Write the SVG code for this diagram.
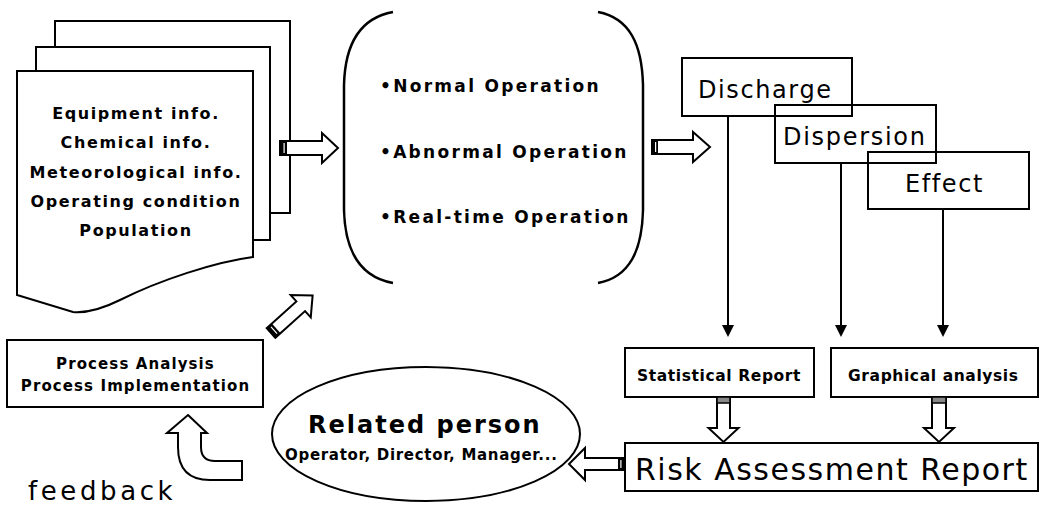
<svg xmlns="http://www.w3.org/2000/svg" width="1040" height="507" viewBox="0 0 1040 507">
<style>
.ln{fill:none;stroke:#000;stroke-width:2}
.pg{fill:#fff;stroke:#000;stroke-width:2}
.ar{fill:#fff;stroke:#000;stroke-width:2;stroke-linejoin:miter}
.tl{fill:#000}
.t{font-family:"DejaVu Sans",Verdana,sans-serif;fill:#000}
.stk{font-size:16px;font-weight:bold;letter-spacing:1.6px}
.op{font-size:17px;font-weight:bold;letter-spacing:2.3px}
.big{font-size:24px;letter-spacing:1.6px}
.sm{font-size:15.5px;font-weight:bold;letter-spacing:0.6px}
</style>

<g id="input-docs">
<rect class="pg" x="55" y="21" width="235" height="192"/>
<rect class="pg" x="36" y="47" width="234" height="193"/>
<path class="pg" d="M17,71 L253,71 L253,257 C215,262 160,280 120,300 C100,310 85,313 73,312 L17,295 Z"/>
<g class="t stk" text-anchor="middle">
<text x="136" y="119">Equipment info.</text>
<text x="136" y="148">Chemical info.</text>
<text x="136" y="178">Meteorological info.</text>
<text x="136" y="207">Operating condition</text>
<text x="136" y="236">Population</text>
</g>
</g>

<g id="operations">
<path class="ln" style="stroke-width:2.5" d="M393,12 C360,18 345,45 344,85 L344,210 C345,250 360,277 393,283"/>
<path class="ln" style="stroke-width:2.5" d="M598,12 C630,18 642,45 643,85 L643,210 C642,250 630,277 598,283"/>
<g class="t op">
<text x="380" y="92">•Normal Operation</text>
<text x="380" y="158">•Abnormal Operation</text>
<text x="380" y="223">•Real-time Operation</text>
</g>
</g>

<g id="discharge">
<rect class="ln" x="682" y="58" width="170" height="58"/>
<text class="t big" x="698" y="98">Discharge</text>
</g>
<g id="dispersion">
<rect class="ln" x="775" y="105" width="161" height="58"/>
<text class="t big" x="783" y="145" style="letter-spacing:1.7px">Dispersion</text>
</g>
<g id="effect">
<rect class="ln" x="868" y="152" width="161" height="57"/>
<text class="t big" x="905" y="192">Effect</text>
</g>

<g id="statistical-report">
<rect class="ln" x="625" y="348" width="189" height="49"/>
<text class="t sm" x="637" y="381">Statistical Report</text>
</g>
<g id="graphical-analysis">
<rect class="ln" x="831" y="348" width="207" height="49"/>
<text class="t sm" x="848" y="381">Graphical analysis</text>
</g>

<g id="risk-report">
<rect class="ln" x="625" y="443" width="413" height="48"/>
<text class="t" x="635" y="480" style="font-size:30px;letter-spacing:1.5px">Risk Assessment Report</text>
</g>

<g id="related-person">
<ellipse class="ln" cx="426" cy="434" rx="154" ry="67"/>
<text class="t" x="308" y="433" style="font-size:24px;font-weight:bold;letter-spacing:2px">Related person</text>
<text class="t" x="285" y="460" style="font-size:15px;font-weight:bold;letter-spacing:0.7px">Operator, Director, Manager...</text>
</g>

<g id="process">
<rect class="ln" x="7" y="340" width="256" height="67"/>
<g class="t" text-anchor="middle" style="font-size:15px;font-weight:bold;letter-spacing:1.1px">
<text x="135.5" y="369">Process Analysis</text>
<text x="135.5" y="391">Process Implementation</text>
</g>
</g>

<g id="feedback">
<text class="t" x="28" y="500" style="font-size:26px;letter-spacing:3.6px">feedback</text>
</g>

<g id="connectors">
<g transform="translate(280,148)">
<path class="ar" d="M0,-7 L42,-7 L42,-15 L58,0 L42,15 L42,7 L0,7 Z"/>
<rect class="tl" x="0" y="-7" width="7" height="14"/>
<rect x="3.5" y="-5" width="1.2" height="10" fill="#fff"/>
</g>
<g transform="translate(652,147)">
<path class="ar" d="M0,-7 L41,-7 L41,-15 L58,0 L41,15 L41,7 L0,7 Z"/>
<rect class="tl" x="0" y="-7" width="6" height="14"/>
<rect x="3" y="-5" width="1.2" height="10" fill="#fff"/>
</g>
<line class="ln" x1="728" y1="116" x2="728" y2="325"/>
<path d="M722,325 L734,325 L728,337 Z" fill="#000"/>
<line class="ln" x1="841" y1="163" x2="841" y2="325"/>
<path d="M835,325 L847,325 L841,337 Z" fill="#000"/>
<line class="ln" x1="943" y1="209" x2="943" y2="325"/>
<path d="M937,325 L949,325 L943,337 Z" fill="#000"/>
<g transform="translate(723.5,397)">
<path class="ar" d="M-6.5,0 L6.5,0 L6.5,31 L15,31 L0,45 L-15,31 L-6.5,31 Z"/>
<rect x="-6.5" y="0" width="13" height="6" fill="#888" stroke="#000" stroke-width="1.5"/>
</g>
<g transform="translate(939,397)">
<path class="ar" d="M-7,0 L7,0 L7,31 L15,31 L0,45 L-15,31 L-7,31 Z"/>
<rect x="-7" y="0" width="14" height="6" fill="#888" stroke="#000" stroke-width="1.5"/>
</g>
<g transform="translate(624,464) rotate(180)">
<path class="ar" d="M0,-6 L39,-6 L39,-16 L55,0 L39,16 L39,6 L0,6 Z"/>
<rect class="tl" x="0" y="-6" width="6" height="12"/>
<rect x="2.5" y="-4" width="1.2" height="8" fill="#fff"/>
</g>
<g transform="translate(271,333) rotate(-42)">
<path class="ar" d="M0,-6.5 L40,-6.5 L40,-15 L56,0 L40,15 L40,6.5 L0,6.5 Z"/>
<rect class="tl" x="0" y="-6.5" width="7" height="13"/>
<rect x="3.5" y="-4.5" width="1.2" height="9" fill="#fff"/>
</g>
<path class="ar" d="M188,415 L207,433 L201,433 L201,447 Q201,461 215,461 L242,461 L242,480 L210,480 Q178,480 178,447 L178,433 L167,433 Z"/>
</g>
</svg>
